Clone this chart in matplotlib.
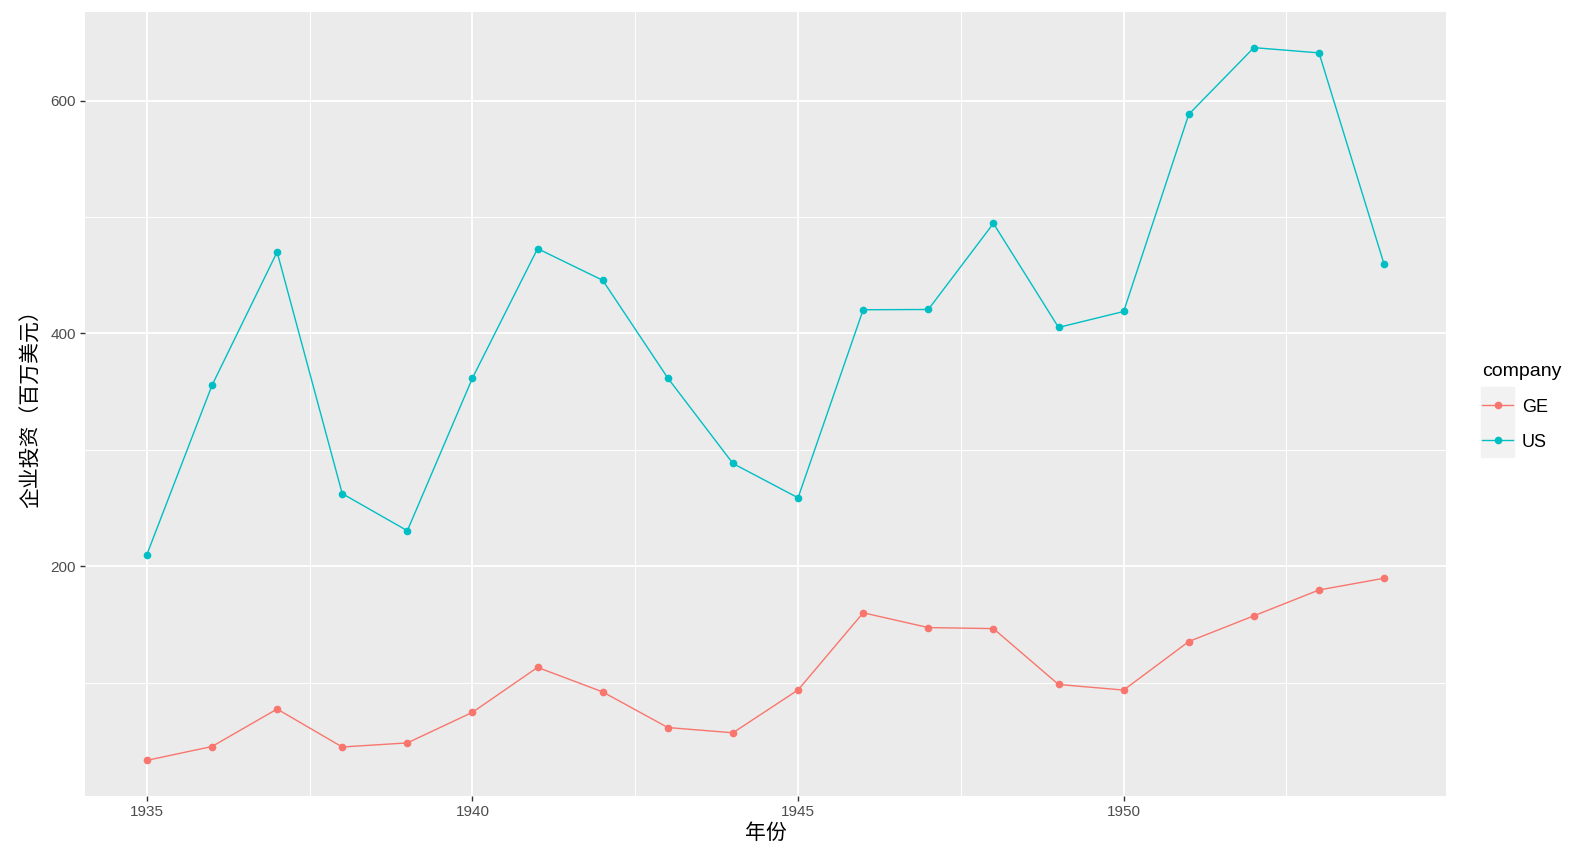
import matplotlib
matplotlib.use('Agg')
import matplotlib.pyplot as plt
from matplotlib.lines import Line2D
from matplotlib.patches import Rectangle

plt.rcParams['font.family'] = ['Liberation Sans', 'Noto Sans CJK SC', 'DejaVu Sans']

# Grunfeld 投资数据
years = list(range(1935, 1955))
ge_invest = [33.1, 45.0, 77.2, 44.6, 48.1, 74.4, 113.0, 91.9, 61.3, 56.8,
             93.6, 159.9, 147.2, 146.3, 98.3, 93.5, 135.2, 157.3, 179.5, 189.6]
us_invest = [209.9, 355.3, 469.9, 262.3, 230.4, 361.6, 472.8, 445.6, 361.6, 288.2,
             258.7, 420.3, 420.5, 494.5, 405.1, 418.8, 588.2, 645.5, 641.0, 459.3]
companies = ['GE', 'US']
colors = ['#F8766D', '#00BFC4']
x_ticks = [1935, 1940, 1945, 1950]
y_ticks = [200, 400, 600]

W, H = 1574, 859
fig = plt.figure(figsize=(W / 100, H / 100), dpi=100)
ax = fig.add_axes([85 / W, 1 - 796 / H, (1446 - 85) / W, (796 - 12) / H])
ax.set_facecolor('#EBEBEB')

for name, vals, c in zip(companies, [ge_invest, us_invest], colors):
    ax.plot(years, vals, color=c, lw=1.0, marker='o', ms=4.5, label=name, zorder=3)

lo = min(ge_invest + us_invest)
hi = max(ge_invest + us_invest)
pad = (hi - lo) * 0.05
ax.set_ylim(lo - pad, hi + pad)
ax.set_xlim(1935 - 0.95, 1954 + 0.95)

ax.set_xticks(x_ticks)
ax.set_yticks(y_ticks)
ax.set_xticks([1937.5, 1942.5, 1947.5, 1952.5], minor=True)
ax.set_yticks([100, 300, 500], minor=True)
ax.grid(which='major', color='white', lw=1.3)
ax.grid(which='minor', color='white', lw=0.7)
ax.set_axisbelow(True)
for s in ax.spines.values():
    s.set_visible(False)
ax.tick_params(which='major', length=3.5, width=1, color='#333333',
               labelsize=11, labelcolor='#4D4D4D', pad=3)
ax.tick_params(which='minor', length=0)

ax.set_xlabel('年份', fontsize=15, family=['Noto Sans CJK SC', 'DejaVu Sans'], labelpad=2)
ax.set_ylabel('企业投资（百万美元）', fontsize=15, family=['Noto Sans CJK SC', 'DejaVu Sans'], labelpad=6)

# 图例键的灰色底
fig.patches.append(Rectangle((1481 / W, 1 - 457 / H), 33 / W, 70 / H,
                             transform=fig.transFigure, color='#F2F2F2', zorder=0))
handles = [Line2D([], [], color=c, lw=1.0, marker='o', ms=4.5) for c in colors]
leg = fig.legend(handles, companies, title='company', loc='center left',
                 bbox_to_anchor=(1466 / W, 1 - 407 / H), frameon=False,
                 fontsize=13, title_fontsize=14, handlelength=1.7,
                 handletextpad=0.5, labelspacing=1.0, alignment='left')

fig.savefig('out.png', dpi=100)
